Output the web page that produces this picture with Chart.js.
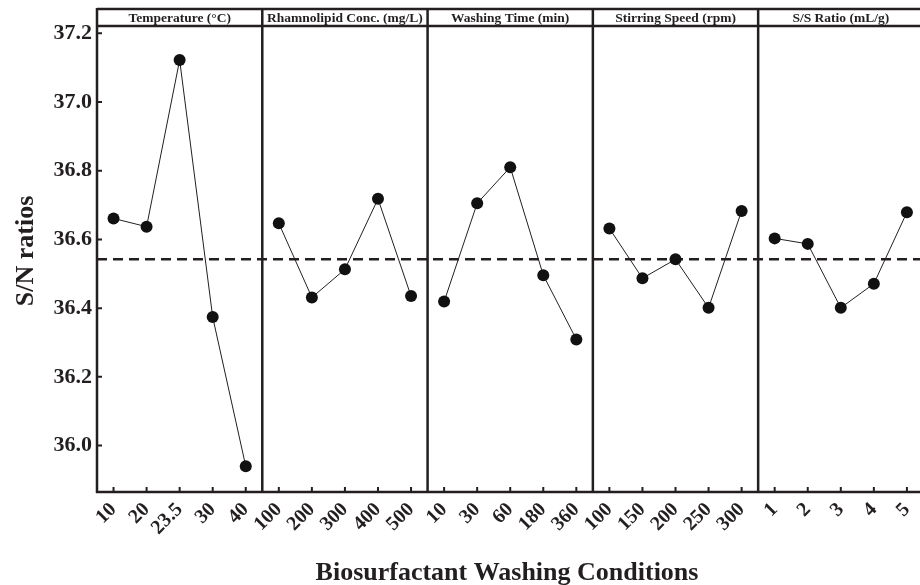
<!DOCTYPE html>
<html>
<head>
<meta charset="utf-8">
<script src="https://cdn.jsdelivr.net/npm/chart.js@4.4.1/dist/chart.umd.min.js"></script>
<style>
  html, body { margin: 0; padding: 0; background: #fff; overflow: hidden; }
  #wrap { width: 920px; height: 585px; overflow: hidden; }
</style>
</head>
<body>
<div id="wrap"><canvas id="snChart" width="930" height="585"></canvas></div>
<script>
const panelTitles = ['Temperature (°C)', 'Rhamnolipid Conc. (mg/L)', 'Washing Time (min)', 'Stirring Speed (rpm)', 'S/S Ratio (mL/g)'];
const tempLevels = ['10', '20', '23.5', '30', '40'];
const rhamLevels = ['100', '200', '300', '400', '500'];
const timeLevels = ['10', '30', '60', '180', '360'];
const speedLevels = ['100', '150', '200', '250', '300'];
const ratioLevels = ['1', '2', '3', '4', '5'];

const snTemperature = [36.661, 36.637, 37.122, 36.374, 35.940];
const snRhamnolipid = [36.647, 36.431, 36.513, 36.718, 36.435];
const snWashTime = [36.419, 36.705, 36.810, 36.496, 36.309];
const snStirring = [36.632, 36.487, 36.542, 36.401, 36.683];
const snRatio = [36.603, 36.587, 36.401, 36.471, 36.679];

const grandMean = 36.542;
const yTicks = [36.0, 36.2, 36.4, 36.6, 36.8, 37.0, 37.2];

const xTitle = 'Biosurfactant Washing Conditions';
const yTitle = 'S/N ratios';

const FONT = '"Liberation Serif", "Times New Roman", serif';
const INK = '#231f20';

const levels = [tempLevels, rhamLevels, timeLevels, speedLevels, ratioLevels];
const series = [snTemperature, snRhamnolipid, snWashTime, snStirring, snRatio];
const allLabels = levels.flat();

// one dataset per panel, nulls outside its own five slots
const datasets = series.map((vals, p) => {
    const data = allLabels.map(() => null);
    vals.forEach((v, i) => { data[p * 5 + i] = v; });
    return {
        label: panelTitles[p],
        data: data,
        borderColor: INK,
        borderWidth: 1,
        backgroundColor: INK,
        pointRadius: 6,
        pointBackgroundColor: '#111',
        pointBorderWidth: 0,
        tension: 0,
        spanGaps: false
    };
});

function panelEdges(chart) {
    const x = chart.scales.x;
    const a = chart.chartArea;
    const edges = [a.left];
    for (let k = 1; k < 5; k++) {
        edges.push((x.getPixelForValue(k * 5 - 1) + x.getPixelForValue(k * 5)) / 2);
    }
    edges.push(a.right);
    return edges;
}

const framePlugin = {
    id: 'frame',
    beforeDatasetsDraw(chart) {
        const ctx = chart.ctx;
        const a = chart.chartArea;
        const y = chart.scales.y.getPixelForValue(grandMean);
        ctx.save();
        ctx.strokeStyle = INK;
        ctx.lineWidth = 2.5;
        ctx.setLineDash([10, 6]);
        ctx.beginPath();
        ctx.moveTo(a.left, y);
        ctx.lineTo(a.right, y);
        ctx.stroke();
        ctx.restore();
    },
    afterDraw(chart) {
        const ctx = chart.ctx;
        const a = chart.chartArea;
        const xs = chart.scales.x;
        const ys = chart.scales.y;
        const top = 9;
        const edges = panelEdges(chart);
        ctx.save();
        ctx.strokeStyle = INK;
        ctx.lineWidth = 2.5;
        ctx.setLineDash([]);
        ctx.beginPath();
        // header strip
        ctx.moveTo(a.left, top); ctx.lineTo(a.right, top);
        ctx.moveTo(a.left, a.top); ctx.lineTo(a.right, a.top);
        // bottom axis
        ctx.moveTo(a.left - 1, a.bottom); ctx.lineTo(a.right, a.bottom);
        // verticals
        edges.forEach(ex => { ctx.moveTo(ex, top - 1); ctx.lineTo(ex, a.bottom + 1); });
        ctx.stroke();

        // small inward ticks
        ctx.lineWidth = 2;
        ctx.beginPath();
        yTicks.forEach(v => {
            const py = ys.getPixelForValue(v);
            ctx.moveTo(a.left, py); ctx.lineTo(a.left + 5, py);
        });
        allLabels.forEach((l, i) => {
            const px = xs.getPixelForValue(i);
            ctx.moveTo(px, a.bottom); ctx.lineTo(px, a.bottom - 5);
        });
        ctx.stroke();

        // panel titles
        ctx.fillStyle = INK;
        ctx.font = 'bold 13.5px ' + FONT;
        ctx.textAlign = 'center';
        ctx.textBaseline = 'middle';
        panelTitles.forEach((t, p) => {
            ctx.fillText(t, (edges[p] + edges[p + 1]) / 2, (top + a.top) / 2 + 1);
        });

        // axis titles
        ctx.font = 'bold 26px ' + FONT;
        ctx.textBaseline = 'alphabetic';
        ctx.fillText(xTitle, 507, 580);
        ctx.translate(33, 251);
        ctx.rotate(-Math.PI / 2);
        ctx.fillText(yTitle, 0, 0);
        ctx.restore();
    }
};

new Chart(document.getElementById('snChart').getContext('2d'), {
    type: 'line',
    data: { labels: allLabels, datasets: datasets },
    options: {
        responsive: false,
        animation: false,
        layout: { padding: { top: 26, right: 0, bottom: 0, left: 0 } },
        plugins: {
            legend: { display: false },
            tooltip: { enabled: false }
        },
        scales: {
            x: {
                type: 'category',
                offset: true,
                grid: { display: false, drawTicks: false },
                border: { display: false },
                ticks: {
                    autoSkip: false,
                    minRotation: 45,
                    maxRotation: 45,
                    padding: 6,
                    color: INK,
                    font: { family: FONT, size: 20, weight: 'bold' }
                },
                afterFit(scale) { scale.height = 93; }
            },
            y: {
                min: 35.865,
                max: 37.221,
                grid: { display: false, drawTicks: false },
                border: { display: false },
                afterBuildTicks(scale) { scale.ticks = yTicks.map(v => ({ value: v })); },
                ticks: {
                    padding: 5,
                    color: INK,
                    font: { family: FONT, size: 22, weight: 'bold' },
                    callback: v => Number(v).toFixed(1)
                },
                afterFit(scale) { scale.width = 97; }
            }
        }
    },
    plugins: [framePlugin]
});
</script>
</body>
</html>
